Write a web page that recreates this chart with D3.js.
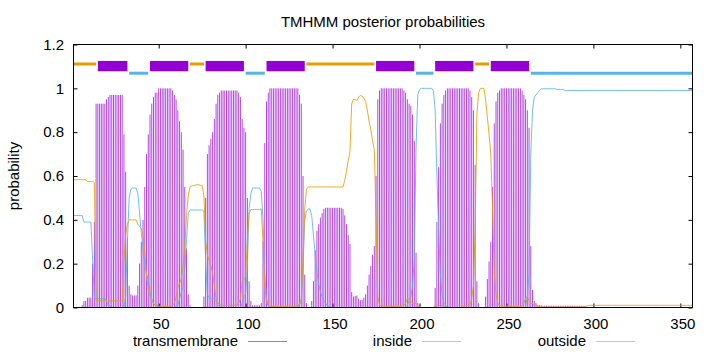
<!DOCTYPE html>
<html>
<head>
<meta charset="utf-8">
<script src="https://cdn.jsdelivr.net/npm/d3@7"></script>
<style>
  body { margin: 0; background: #fff; }
  text { font-family: "Liberation Sans", Arial, sans-serif; fill: #000; }
</style>
</head>
<body>
<div id="chart"></div>
<script>
// ----------------------
// Data (per residue, 1..357)
// ----------------------
const tmProb = [
  0,0,0,0,0,0.01,0.03,0.03,0.045,0.045,
  0.045,0.2,0.39,0.93,0.93,0.93,0.93,0.93,0.93,0.95,
  0.96,0.97,0.97,0.97,0.97,0.97,0.97,0.97,0.97,0.79,
  0.62,0.32,0.1,0.06,0.055,0.055,0.055,0.1,0.2,0.3,
  0.4,0.55,0.7,0.79,0.88,0.93,0.96,0.98,0.98,1,
  1,1,1,1,1,1,1,0.99,0.97,0.95,
  0.9,0.85,0.8,0.72,0.55,0.27,0.06,0.01,0,0,
  0,0,0,0,0,0.05,0.5,0.7,0.74,0.77,
  0.8,0.86,0.93,0.97,0.98,0.99,0.99,0.99,0.99,0.99,
  0.99,0.99,0.99,0.99,0.99,0.98,0.96,0.86,0.82,0.8,
  0.5,0.12,0.03,0.01,0.01,0.01,0.01,0.01,0.02,0.3,
  0.75,0.94,0.98,1,1,1,1,1,1,1,
  1,1,1,1,1,1,1,1,1,1,
  0.97,0.93,0.6,0.15,0.02,0,0,0.03,0.12,0.26,
  0.35,0.38,0.41,0.43,0.45,0.455,0.455,0.455,0.455,0.455,
  0.455,0.455,0.455,0.455,0.455,0.45,0.42,0.38,0.33,0.29,
  0.07,0.05,0.052,0.055,0.04,0.033,0.035,0.045,0.06,0.1,
  0.15,0.19,0.24,0.28,0.6,0.95,0.99,1,1,1,
  1,1,1,1,1,1,1,1,1,1,
  0.99,0.98,0.95,0.93,0.92,0.88,0.76,0.25,0.02,0,
  0,0,0,0,0,0,0,0,0.09,0.39,
  0.64,0.84,0.93,0.97,0.99,1,1,1,1,1,
  1,1,1,1,1,1,1,1,0.99,0.96,
  0.9,0.65,0.12,0.02,0,0,0,0.05,0.13,0.21,
  0.3,0.55,0.84,0.94,0.98,0.99,1,1,1,1,
  1,1,1,1,1,1,1,1,0.99,0.97,
  0.95,0.9,0.82,0.28,0.08,0.03,0.02,0.01,0.01,0.01,
  0.008,0.008,0.008,0.008,0.008,0.008,0.008,0.008,0.008,0.008,
  0.008,0.008,0.008,0.008,0.008,0.008,0.008,0.008,0.008,0.008,
  0.008,0.008,0.008,0.008,0.006,0.004,0.002,0,0,0,
  0,0,0,0,0,0,0,0,0,0,
  0,0,0,0,0,0,0,0,0,0,
  0,0,0,0,0,0,0,0,0,0,
  0,0,0,0,0,0,0,0,0,0,
  0,0,0,0,0,0,0,0,0,0,
  0,0,0,0,0,0,0
];

const insideProb = [
  0.42,0.42,0.42,0.42,0.42,0.42,0.39,0.39,0.39,0.39,
  0.39,0.22,0.04,0.04,0.04,0.04,0.04,0.04,0.04,0.03,
  0.01,0.005,0,0,0,0,0,0,0,0,
  0.05,0.3,0.5,0.54,0.545,0.545,0.545,0.52,0.43,0.34,
  0.27,0.2,0.15,0.13,0.07,0.04,0.02,0.01,0.005,0,
  0,0,0,0,0,0,0,0,0,0.005,
  0.01,0.04,0.07,0.09,0.17,0.31,0.43,0.445,0.445,0.445,
  0.445,0.445,0.445,0.445,0.445,0.44,0.2,0.06,0.045,0.04,
  0.04,0.04,0.03,0.01,0.005,0,0,0,0,0,
  0,0,0,0,0,0,0,0.02,0.05,0.06,
  0.19,0.45,0.52,0.545,0.545,0.545,0.545,0.545,0.53,0.4,
  0.15,0.04,0.01,0,0,0,0,0,0,0,
  0,0,0,0,0,0,0,0,0,0,
  0.01,0.03,0.18,0.4,0.44,0.45,0.45,0.42,0.33,0.24,
  0.16,0.11,0.07,0.05,0.03,0.02,0.01,0.005,0,0,
  0,0,0,0,0,0,0,0,0,0,
  0,0,0,0,0,0,0,0,0,0,
  0,0,0,0,0,0,0,0,0,0,
  0,0,0,0,0,0,0,0,0,0,
  0,0,0.01,0.03,0.05,0.1,0.22,0.73,0.97,0.995,
  1,1,1,1,1,1,1,0.99,0.9,0.6,
  0.35,0.15,0.06,0.02,0.01,0,0,0,0,0,
  0,0,0,0,0,0,0,0,0,0,
  0,0,0,0,0,0,0,0,0,0,
  0,0,0,0,0,0,0,0,0,0,
  0,0,0,0,0,0,0,0,0,0,
  0,0.05,0.15,0.7,0.9,0.96,0.97,0.98,0.99,0.998,
  0.998,0.998,0.998,0.998,0.998,0.998,0.998,0.998,0.995,0.995,
  0.995,0.995,0.993,0.99,0.99,0.99,0.99,0.99,0.99,0.99,
  0.99,0.99,0.99,0.99,0.99,0.99,0.99,0.99,0.99,0.99,
  0.99,0.99,0.99,0.99,0.99,0.99,0.99,0.99,0.99,0.99,
  0.99,0.99,0.99,0.99,0.99,0.99,0.99,0.99,0.99,0.99,
  0.99,0.99,0.99,0.99,0.99,0.99,0.99,0.99,0.99,0.99,
  0.99,0.99,0.99,0.99,0.99,0.99,0.99,0.99,0.99,0.99,
  0.99,0.99,0.99,0.99,0.99,0.99,0.99,0.99,0.99,0.99,
  0.99,0.99,0.99,0.99,0.99,0.99,0.99
];

const outsideProb = [
  0.583,0.583,0.583,0.583,0.583,0.583,0.583,0.583,0.575,0.575,
  0.575,0.575,0.57,0.03,0.03,0.03,0.03,0.03,0.03,0.03,
  0.03,0.03,0.03,0.03,0.03,0.03,0.03,0.03,0.03,0.21,
  0.33,0.38,0.4,0.4,0.4,0.4,0.4,0.38,0.37,0.36,
  0.33,0.25,0.15,0.08,0.05,0.03,0.02,0.01,0.01,0.005,
  0.005,0.005,0.005,0.005,0.005,0.005,0.005,0.01,0.02,0.045,
  0.09,0.11,0.13,0.19,0.28,0.42,0.51,0.55,0.556,0.556,
  0.558,0.56,0.56,0.558,0.556,0.51,0.3,0.24,0.215,0.19,
  0.16,0.1,0.04,0.02,0.015,0.01,0.01,0.01,0.01,0.01,
  0.01,0.01,0.01,0.01,0.01,0.02,0.04,0.12,0.13,0.14,
  0.31,0.43,0.447,0.447,0.447,0.447,0.447,0.447,0.45,0.3,
  0.1,0.02,0.01,0.005,0.005,0.005,0.005,0.005,0.005,0.005,
  0.005,0.005,0.005,0.005,0.005,0.005,0.005,0.005,0.005,0.005,
  0.02,0.04,0.22,0.45,0.54,0.55,0.55,0.55,0.55,0.55,
  0.55,0.55,0.55,0.55,0.55,0.55,0.55,0.55,0.55,0.55,
  0.55,0.55,0.55,0.55,0.55,0.55,0.58,0.62,0.67,0.71,
  0.93,0.95,0.948,0.945,0.96,0.967,0.965,0.955,0.94,0.9,
  0.85,0.81,0.76,0.72,0.4,0.05,0.01,0.005,0.005,0.005,
  0.005,0.005,0.005,0.005,0.005,0.005,0.005,0.005,0.005,0.005,
  0.01,0.02,0.04,0.04,0.03,0.02,0.02,0.02,0.01,0.005,
  0,0,0,0,0,0,0,0,0.01,0.01,
  0.01,0.01,0.01,0.01,0,0,0,0,0,0,
  0,0,0,0,0.005,0.005,0.01,0.01,0.01,0.04,
  0.1,0.35,0.88,0.98,1,1,1,0.95,0.87,0.79,
  0.7,0.45,0.16,0.06,0.02,0.01,0.005,0.005,0.005,0.005,
  0.005,0.005,0.005,0.005,0.005,0.005,0.005,0.005,0.005,0.02,
  0.04,0.05,0.03,0.02,0.02,0.01,0.01,0.005,0.003,0.002,
  0.002,0.002,0.002,0.002,0.002,0.002,0.002,0.002,0.002,0.002,
  0.002,0.002,0.002,0.002,0.002,0.002,0.002,0.002,0.002,0.002,
  0.002,0.002,0.002,0.002,0.004,0.006,0.008,0.01,0.01,0.01,
  0.01,0.01,0.01,0.01,0.01,0.01,0.01,0.01,0.01,0.01,
  0.01,0.01,0.01,0.01,0.01,0.01,0.01,0.01,0.01,0.01,
  0.01,0.01,0.01,0.01,0.01,0.01,0.01,0.01,0.01,0.01,
  0.01,0.01,0.01,0.01,0.01,0.01,0.01,0.01,0.01,0.01,
  0.01,0.01,0.01,0.01,0.01,0.01,0.01,0.01,0.01,0.01,
  0.01,0.01,0.01,0.01,0.01,0.01,0.01
];

// predicted topology (residue ranges)
const topology = [
  { type: "outside", start: 1, end: 14 },
  { type: "TMhelix", start: 15, end: 32 },
  { type: "inside", start: 33, end: 44 },
  { type: "TMhelix", start: 45, end: 67 },
  { type: "outside", start: 68, end: 76 },
  { type: "TMhelix", start: 77, end: 99 },
  { type: "inside", start: 100, end: 111 },
  { type: "TMhelix", start: 112, end: 134 },
  { type: "outside", start: 135, end: 174 },
  { type: "TMhelix", start: 175, end: 197 },
  { type: "inside", start: 198, end: 208 },
  { type: "TMhelix", start: 209, end: 231 },
  { type: "outside", start: 232, end: 240 },
  { type: "TMhelix", start: 241, end: 263 },
  { type: "inside", start: 264, end: 357 }
];

const xTicks = [50, 100, 150, 200, 250, 300, 350];
const yTicks = [0, 0.2, 0.4, 0.6, 0.8, 1, 1.2];
const yTickLabels = ["0", "0.2", "0.4", "0.6", "0.8", "1", "1.2"];
const seriesNames = ["transmembrane", "inside", "outside"];

// ----------------------
// Setup
// ----------------------
const W = 720, H = 352;
const plot = { left: 73.5, right: 692.5, top: 44.5, bottom: 307.5 };
const colTM = "#9400d3", colIn = "#56b4e9", colOut = "#e69f00";
const fontSize = 15;

const svg = d3.select("#chart")
    .append("svg")
    .attr("width", W)
    .attr("height", H);

const x = d3.scaleLinear().domain([1, 357]).range([plot.left, plot.right]);
const y = d3.scaleLinear().domain([0, 1.2]).range([plot.bottom, plot.top]);

const residues = tmProb.map((d, i) => i + 1);

// ----------------------
// Axes (gnuplot style: inward ticks, mirrored)
// ----------------------
const xAxis = svg.append("g")
    .attr("transform", `translate(0,${plot.bottom})`)
    .call(d3.axisBottom(x).tickValues(xTicks).tickSize(-4).tickPadding(11));
xAxis.selectAll("text").attr("dx", 2);

svg.append("g")
    .attr("transform", `translate(0,${plot.top})`)
    .call(d3.axisTop(x).tickValues(xTicks).tickSize(-4).tickFormat(""));

svg.append("g")
    .attr("transform", `translate(${plot.left},0)`)
    .call(d3.axisLeft(y).tickValues(yTicks).tickSize(-4).tickPadding(9.5)
        .tickFormat((d, i) => yTickLabels[i]));

svg.append("g")
    .attr("transform", `translate(${plot.right},0)`)
    .call(d3.axisRight(y).tickValues(yTicks).tickSize(-4).tickFormat(""));

svg.selectAll(".domain").remove();
svg.selectAll(".tick line").attr("stroke", "#000");
svg.selectAll(".tick text")
    .style("font-family", "'Liberation Sans', Arial, sans-serif")
    .style("font-size", fontSize + "px")
    .attr("fill", "#000");

// ----------------------
// Series
// ----------------------
// transmembrane as impulses
svg.append("g")
    .selectAll("line")
    .data(residues.filter(r => tmProb[r - 1] > 0))
    .join("line")
    .attr("x1", r => x(r))
    .attr("x2", r => x(r))
    .attr("y1", y(0))
    .attr("y2", r => y(tmProb[r - 1]))
    .attr("stroke", colTM)
    .attr("stroke-width", 1)
    .attr("stroke-opacity", 0.72);

const line = vals => d3.line()
    .x(r => x(r))
    .y(r => y(vals[r - 1]))(residues);

svg.append("path")
    .attr("d", line(insideProb))
    .attr("fill", "none")
    .attr("stroke", colIn)
    .attr("stroke-width", 1)
    .attr("stroke-opacity", 0.85);

svg.append("path")
    .attr("d", line(outsideProb))
    .attr("fill", "none")
    .attr("stroke", colOut)
    .attr("stroke-width", 1)
    .attr("stroke-opacity", 0.85);

// topology bar above the curves
const annot = svg.append("g");
annot.selectAll("rect")
    .data(topology.filter(d => d.type === "TMhelix"))
    .join("rect")
    .attr("x", d => x(d.start))
    .attr("width", d => x(d.end) - x(d.start))
    .attr("y", y(1.125))
    .attr("height", y(1.078) - y(1.125))
    .attr("fill", colTM);

annot.selectAll("line")
    .data(topology.filter(d => d.type !== "TMhelix"))
    .join("line")
    .attr("x1", d => x(d.start))
    .attr("x2", d => x(d.end))
    .attr("y1", d => y(d.type === "outside" ? 1.111 : 1.069))
    .attr("y2", d => y(d.type === "outside" ? 1.111 : 1.069))
    .attr("stroke", d => d.type === "outside" ? colOut : colIn)
    .attr("stroke-width", 3);

// border
svg.append("rect")
    .attr("x", plot.left)
    .attr("y", plot.top)
    .attr("width", plot.right - plot.left)
    .attr("height", plot.bottom - plot.top)
    .attr("fill", "none")
    .attr("stroke", "#000")
    .attr("stroke-width", 1);

// ----------------------
// Labels
// ----------------------
svg.append("text")
    .attr("x", 383)
    .attr("y", 27)
    .attr("text-anchor", "middle")
    .style("font-size", fontSize + "px")
    .text("TMHMM posterior probabilities");

svg.append("text")
    .attr("transform", `translate(18.5,${(plot.top + plot.bottom) / 2}) rotate(-90)`)
    .attr("text-anchor", "middle")
    .style("font-size", fontSize + "px")
    .text("probability");

// ----------------------
// Legend
// ----------------------
const legendColors = [colTM, colIn, colOut];
const legend = svg.append("g").attr("transform", "translate(0,341.5)");
seriesNames.forEach((name, i) => {
    const lx = 248 + i * 174;
    legend.append("text")
        .attr("x", lx - 10)
        .attr("y", 4.5)
        .attr("text-anchor", "end")
        .style("font-size", fontSize + "px")
        .text(name);
    legend.append("line")
        .attr("x1", lx)
        .attr("x2", lx + 39)
        .attr("y1", 0)
        .attr("y2", 0)
        .attr("stroke", legendColors[i])
        .attr("stroke-width", 1)
        .attr("opacity", 0.6);
});
</script>
</body>
</html>
